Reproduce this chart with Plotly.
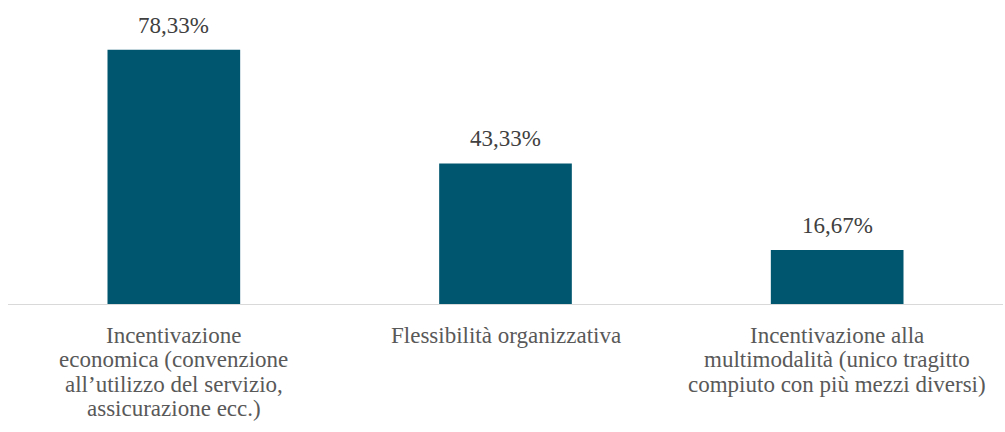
import plotly.graph_objects as go

category_keys = ["economica", "flessibilita", "multimodalita"]
category_lines = [
    ["Incentivazione", "economica (convenzione", "all\u2019utilizzo del servizio,", "assicurazione ecc.)"],
    ["Flessibilità organizzativa"],
    ["Incentivazione alla", "multimodalità (unico tragitto", "compiuto con più mezzi diversi)"],
]
values = [78.33, 43.33, 16.67]
value_labels = ["78,33%", "43,33%", "16,67%"]

BAR_COLOR = "#00566f"
FONT = "Liberation Serif"
FONT_SIZE = 23
LINE_STEP = 24.5

fig = go.Figure(
    go.Bar(
        x=category_keys,
        y=values,
        marker=dict(color=BAR_COLOR, line=dict(width=0)),
        width=0.4,
        hoverinfo="skip",
    )
)

# value labels above each bar
for key, val, lab in zip(category_keys, values, value_labels):
    fig.add_annotation(
        x=key, y=val, xref="x", yref="y",
        text=lab, showarrow=False,
        yanchor="middle", yshift=24.5,
        font=dict(family=FONT, size=FONT_SIZE, color="#404040"),
    )

# category labels, one line per annotation for tight line spacing
for key, lines in zip(category_keys, category_lines):
    for i, line in enumerate(lines):
        fig.add_annotation(
            x=key, y=0, xref="x", yref="y",
            text=line, showarrow=False,
            yanchor="middle", yshift=-(31 + LINE_STEP * i),
            font=dict(family=FONT, size=FONT_SIZE, color="#595959"),
        )

fig.update_layout(
    width=1005,
    height=432,
    margin=dict(l=8, r=2, t=12, b=128),
    paper_bgcolor="white",
    plot_bgcolor="white",
    showlegend=False,
    font=dict(family=FONT, size=FONT_SIZE, color="#595959"),
)

fig.update_xaxes(
    showline=True,
    linecolor="#d9d9d9",
    linewidth=1,
    showgrid=False,
    ticks="",
    showticklabels=False,
)

fig.update_yaxes(
    range=[0, 90],
    visible=False,
    showgrid=False,
    zeroline=False,
)

fig.write_html("out.html")
